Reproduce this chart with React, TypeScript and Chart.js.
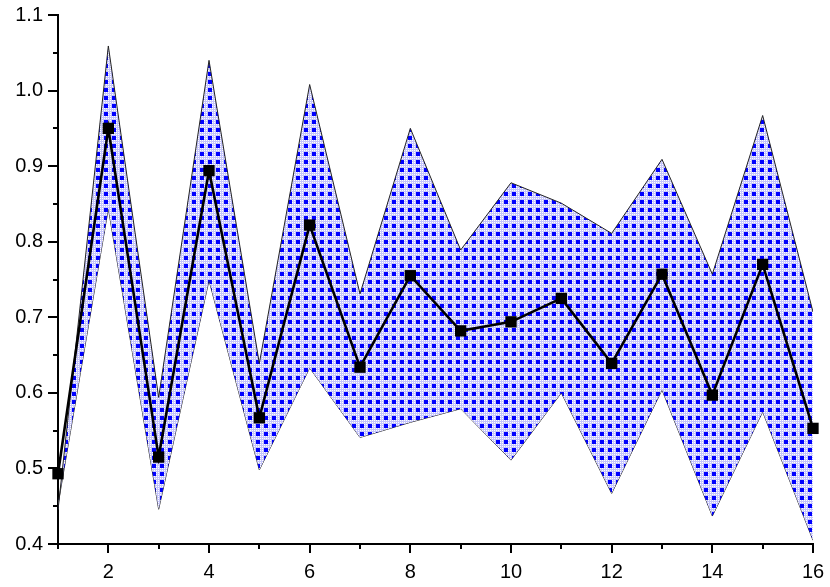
import React, { useEffect, useRef } from "react";
import { Chart, registerables } from "chart.js";

Chart.register(...registerables);

const X_VALUES = [1, 2, 3, 4, 5, 6, 7, 8, 9, 10, 11, 12, 13, 14, 15, 16];
const CENTER = [0.493, 0.95, 0.515, 0.894, 0.567, 0.822, 0.634, 0.755, 0.682, 0.694, 0.725, 0.639, 0.757, 0.597, 0.77, 0.553];
const UPPER = [0.445, 1.059, 0.594, 1.04, 0.639, 1.008, 0.731, 0.95, 0.789, 0.878, 0.851, 0.811, 0.909, 0.757, 0.967, 0.707];
const LOWER = [0.452, 0.844, 0.446, 0.749, 0.498, 0.633, 0.541, 0.561, 0.579, 0.511, 0.6, 0.467, 0.604, 0.437, 0.575, 0.405];
const Y_MIN = 0.4;
const Y_MAX = 1.1;
const X_MIN = 1;
const X_MAX = 16;

function makePattern(): CanvasPattern | string {
  const tile = document.createElement("canvas");
  tile.width = 8;
  tile.height = 8;
  const c = tile.getContext("2d");
  if (!c) return "#4040ff";
  c.fillStyle = "#ffffff";
  c.fillRect(0, 0, 8, 8);
  c.fillStyle = "#c4c4fc";
  const hash = (ox: number, oy: number) => {
    c.fillRect(ox + 1, oy, 1, 4);
    c.fillRect(ox + 3, oy, 1, 4);
    c.fillRect(ox, oy + 1, 4, 1);
    c.fillRect(ox, oy + 3, 4, 1);
  };
  hash(4, 0);
  hash(0, 4);
  hash(4, 4);
  c.fillStyle = "#0000ff";
  c.fillRect(0, 0, 4, 4);
  const p = c.createPattern(tile, "repeat");
  return p || "#4040ff";
}

const tickPlugin = {
  id: "originTicks",
  afterDraw(chart: any) {
    const { ctx, scales } = chart;
    const x = scales.x;
    const y = scales.y;
    ctx.save();
    ctx.strokeStyle = "#000";
    ctx.lineWidth = 2;
    ctx.beginPath();
    for (let v = X_MIN; v <= X_MAX; v++) {
      const px = Math.round(x.getPixelForValue(v));
      const len = v % 2 === 0 ? 9 : 5;
      ctx.moveTo(px, y.bottom);
      ctx.lineTo(px, y.bottom + len);
    }
    for (let i = 0; i <= 14; i++) {
      const v = Y_MIN + 0.05 * i;
      const py = Math.round(y.getPixelForValue(v));
      const len = i % 2 === 0 ? 10 : 5;
      ctx.moveTo(x.left - len, py);
      ctx.lineTo(x.left, py);
    }
    ctx.stroke();
    ctx.restore();
  },
};

export default function App() {
  const ref = useRef<HTMLCanvasElement>(null);
  useEffect(() => {
    if (!ref.current) return;
    const pattern = makePattern();
    const toPts = (arr: number[]) => X_VALUES.map((xv, i) => ({ x: xv, y: arr[i] }));
    const font = { family: "'Liberation Sans', Arial, sans-serif", size: 20 };
    const chart = new Chart(ref.current, {
      type: "line",
      data: {
        datasets: [
          {
            label: "center",
            data: toPts(CENTER),
            borderColor: "#000",
            borderWidth: 2.6,
            pointStyle: "rect",
            pointRadius: 8,
            pointBackgroundColor: "#000",
            pointBorderColor: "#000",
            pointBorderWidth: 0,
            tension: 0,
            fill: false,
            order: 0,
            clip: false,
          } as any,
          {
            label: "upper",
            data: toPts(UPPER),
            borderColor: "#222",
            borderWidth: 1,
            pointRadius: 0,
            tension: 0,
            fill: "+1",
            backgroundColor: pattern as any,
            order: 1,
          },
          {
            label: "lower",
            data: toPts(LOWER),
            borderColor: "#222",
            borderWidth: 1,
            pointRadius: 0,
            tension: 0,
            fill: false,
            order: 2,
          },
        ],
      },
      options: {
        animation: false,
        responsive: false,
        layout: { padding: { left: 0, right: 17, top: 15, bottom: 0 } },
        plugins: {
          legend: { display: false },
          tooltip: { enabled: false },
        },
        scales: {
          x: {
            type: "linear",
            min: X_MIN,
            max: X_MAX,
            grid: { display: false, drawTicks: false },
            border: { display: true, color: "#000", width: 2 },
            ticks: {
              stepSize: 1,
              autoSkip: false,
              maxRotation: 0,
              padding: 16,
              color: "#000",
              font,
              callback: (v: any) => (Number(v) % 2 === 0 ? String(v) : ""),
            },
            afterFit: (s: any) => {
              s.height = 43;
              s.paddingLeft = 0;
              s.paddingRight = 0;
            },
          },
          y: {
            type: "linear",
            min: Y_MIN,
            max: Y_MAX,
            grid: { display: false, drawTicks: false },
            border: { display: true, color: "#000", width: 2 },
            ticks: {
              stepSize: 0.1,
              padding: 15,
              color: "#000",
              font,
              callback: (v: any) => Number(v).toFixed(1),
            },
            afterFit: (s: any) => {
              s.width = 58;
              s.paddingTop = 0;
              s.paddingBottom = 0;
            },
          },
        },
      },
      plugins: [tickPlugin],
    });
    return () => chart.destroy();
  }, []);
  return (
    <div style={{ position: "fixed", left: 0, top: 0, width: 830, height: 587, background: "#fff" }}>
      <canvas ref={ref} width={830} height={587} style={{ display: "block" }} />
    </div>
  );
}
